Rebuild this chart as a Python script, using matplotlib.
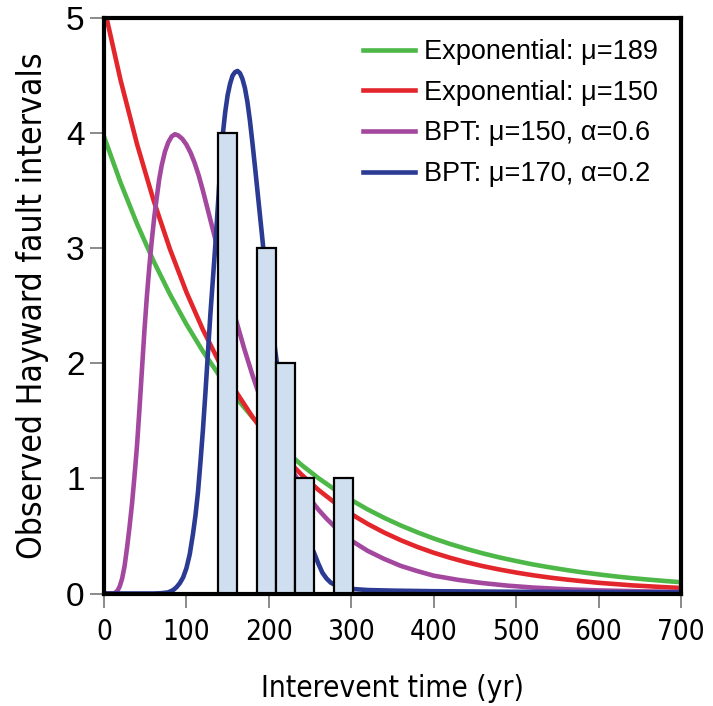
import matplotlib
matplotlib.use("Agg")
import matplotlib.pyplot as plt
from matplotlib import font_manager
from matplotlib.font_manager import FontProperties

# ---------------- data ----------------
bar_centers = [150, 197, 220, 243, 290]
bar_counts = [4, 3, 2, 1, 1]
bar_width = 23

exp_x = [0, 20, 40, 60, 80, 100, 120, 140, 160, 180, 200, 220, 240, 260, 280, 300,
         320, 340, 360, 380, 400, 420, 440, 460, 480, 500, 520, 540, 560, 580, 600,
         620, 640, 660, 680, 700]
exp189_y = [3.970, 3.571, 3.213, 2.890, 2.600, 2.339, 2.104, 1.893, 1.703, 1.532, 1.378,
            1.240, 1.115, 1.003, 0.903, 0.812, 0.730, 0.657, 0.591, 0.532, 0.478, 0.430,
            0.387, 0.348, 0.313, 0.282, 0.253, 0.228, 0.205, 0.184, 0.166, 0.149, 0.134,
            0.121, 0.109, 0.098]
exp150_y = [5.100, 4.463, 3.906, 3.419, 2.992, 2.618, 2.292, 2.006, 1.755, 1.536, 1.344,
            1.177, 1.030, 0.901, 0.789, 0.690, 0.604, 0.529, 0.463, 0.405, 0.354, 0.310,
            0.271, 0.237, 0.208, 0.182, 0.159, 0.139, 0.122, 0.107, 0.093, 0.082, 0.071,
            0.063, 0.055, 0.048]

bpt150_x = [0, 12, 16, 19, 22, 25, 28, 31, 34, 37, 40, 43, 46, 49, 52, 55, 58, 61, 64, 67,
            70, 74, 78, 82, 86, 90, 95, 100, 105, 110, 115, 120, 125, 130, 135, 140, 150,
            160, 170, 180, 190, 200, 210, 220, 230, 240, 250, 260, 270, 280, 290, 300, 320,
            340, 360, 380, 400, 430, 460, 490, 520, 560, 600, 650, 700]
bpt150_y = [0.0, 0.0, 0.02, 0.06, 0.13, 0.24, 0.40, 0.58, 0.78, 1.02, 1.28, 1.60, 1.94, 2.28,
            2.58, 2.84, 3.07, 3.27, 3.44, 3.60, 3.72, 3.84, 3.92, 3.97, 3.99, 3.98, 3.95,
            3.90, 3.83, 3.74, 3.63, 3.50, 3.36, 3.22, 3.08, 2.93, 2.64, 2.38, 2.13, 1.90,
            1.69, 1.50, 1.33, 1.18, 1.05, 0.93, 0.82, 0.73, 0.65, 0.58, 0.52, 0.46, 0.37,
            0.30, 0.24, 0.195, 0.155, 0.118, 0.09, 0.068, 0.052, 0.037, 0.027, 0.019, 0.014]

bpt170_x = [0, 60, 70, 78, 84, 88, 92, 96, 100, 104, 108, 111, 114, 117, 120, 123, 126, 129,
            132, 135, 138, 141, 144, 147, 150, 153, 156, 159, 162, 165, 168, 171, 174, 177,
            180, 184, 188, 192, 196, 200, 205, 210, 215, 220, 225, 230, 235, 240, 245, 250,
            255, 260, 265, 270, 275, 280, 290, 300, 320, 350, 400, 500, 700]
bpt170_y = [0.0, 0.0, 0.003, 0.01, 0.03, 0.055, 0.09, 0.14, 0.22, 0.34, 0.52, 0.68, 0.88,
            1.14, 1.42, 1.74, 2.08, 2.42, 2.72, 3.02, 3.35, 3.70, 3.98, 4.18, 4.33, 4.43,
            4.50, 4.53, 4.54, 4.52, 4.47, 4.39, 4.27, 4.11, 3.92, 3.65, 3.37, 3.09, 2.80,
            2.55, 2.26, 1.99, 1.70, 1.42, 1.17, 0.95, 0.78, 0.64, 0.52, 0.43, 0.35, 0.26,
            0.18, 0.13, 0.095, 0.075, 0.05, 0.04, 0.03, 0.025, 0.02, 0.015, 0.01]

labels = ["Exponential: \u03bc=189", "Exponential: \u03bc=150",
          "BPT: \u03bc=150, \u03b1=0.6", "BPT: \u03bc=170, \u03b1=0.2"]
x_ticks = [0, 100, 200, 300, 400, 500, 600, 700]
y_ticks = [0, 1, 2, 3, 4, 5]
x_title = "Interevent time (yr)"
y_title = "Observed Hayward fault intervals"

# ---------------- fonts ----------------
def find_condensed():
    ents = font_manager.fontManager.ttflist
    for e in ents:
        if e.name == "Liberation Sans Narrow" and e.weight in (400, "normal", "regular") \
                and e.style == "normal":
            return e.fname
    for fam in ["DejaVu Sans", "Roboto Condensed", "Open Sans Condensed", "Noto Sans",
                "Roboto", "Open Sans"]:
        for e in ents:
            st = str(e.stretch)
            if e.name.startswith(fam) and e.style == "normal" and \
                    e.weight in (400, "normal", "regular") and \
                    ("condensed" in st or st in ("75", "62.5", "87.5") or "Condensed" in e.fname):
                return e.fname
    return None

cond_path = find_condensed()

def cond_fp(size):
    if cond_path:
        return FontProperties(fname=cond_path, size=size)
    return FontProperties(family="Liberation Sans", size=size)

regular = "Liberation Sans"

c_green = "#4DB848"
c_red = "#E3262B"
c_purple = "#A3489E"
c_blue = "#2B3A93"

W, H = 713, 706
fig = plt.figure(figsize=(W / 100, H / 100), dpi=100)
ax = fig.add_axes([104 / W, 1 - 593.5 / H, (681 - 104) / W, (593.5 - 18) / H])

lw = 3.3
ax.plot(exp_x, exp189_y, color=c_green, lw=lw, label=labels[0], zorder=2)
ax.plot(exp_x, exp150_y, color=c_red, lw=lw, label=labels[1], zorder=2)
ax.plot(bpt150_x, bpt150_y, color=c_purple, lw=lw, label=labels[2], zorder=2)
ax.plot(bpt170_x, bpt170_y, color=c_blue, lw=lw, label=labels[3], zorder=2)

ax.bar(bar_centers, bar_counts, width=bar_width, color="#D0DFF0", edgecolor="black",
       linewidth=1.6, zorder=3)

ax.set_xlim(0, 700)
ax.set_ylim(0, 5)
ax.set_xticks(x_ticks)
ax.set_yticks(y_ticks)
for s in ax.spines.values():
    s.set_linewidth(3.0)
    s.set_color("black")
    s.set_zorder(5)

ax.tick_params(axis="both", direction="out", length=10, width=1.2, color="#777777")
ax.tick_params(axis="x", pad=8)
ax.tick_params(axis="y", pad=4)
for t in ax.get_yticklabels():
    t.set_fontfamily(regular)
    t.set_fontsize(24)

xl = ax.set_xlabel(x_title, fontproperties=cond_fp(27), labelpad=20)
yl = ax.set_ylabel(y_title, fontproperties=cond_fp(27), labelpad=12)
for t in ax.get_xticklabels():
    t.set_fontproperties(cond_fp(25))

# fit the condensed-looking widths of the reference text
fig.canvas.draw()
r = fig.canvas.get_renderer()
wx = xl.get_window_extent(r).width
xl.set_fontproperties(cond_fp(27 * 263.0 / wx))
hy = yl.get_window_extent(r).height
yl.set_fontproperties(cond_fp(27 * 505.0 / hy))
t7 = ax.get_xticklabels()[-1]
w7 = t7.get_window_extent(r).width
xs = 25 * 48.0 / w7
for t in ax.get_xticklabels():
    t.set_fontproperties(cond_fp(xs))

leg = ax.legend(loc="upper right", frameon=False, prop={"family": regular, "size": 19.5},
                handlelength=1.95, handletextpad=0.3, labelspacing=0.54,
                bbox_to_anchor=(0.978, 0.982), borderaxespad=0.0)

fig.savefig("out.png", dpi=100)
